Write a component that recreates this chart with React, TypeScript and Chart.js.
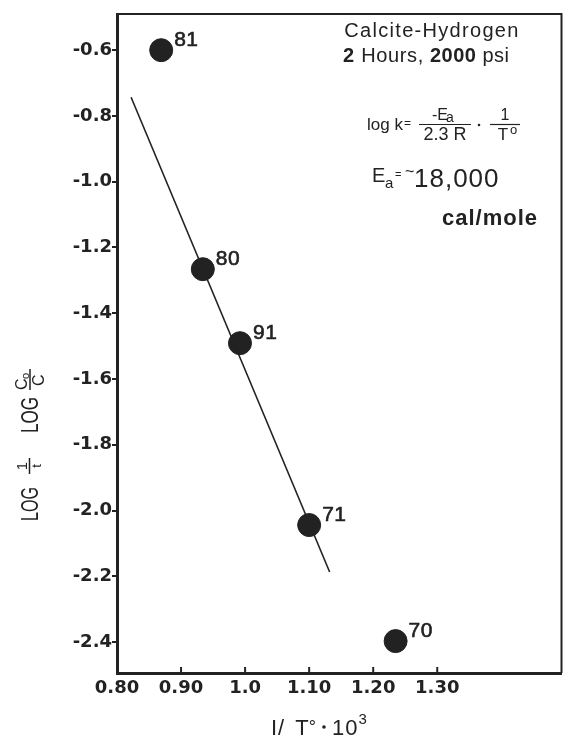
import React, { useEffect, useRef } from 'react';
import { Chart, registerables } from 'chart.js';

Chart.register(...registerables);

// ---- data ----
const runLabels = ['81', '80', '91', '71', '70'];
const invTemp = [0.869, 0.934, 0.992, 1.1, 1.235];
const logRate = [-0.6, -1.266, -1.491, -2.044, -2.397];
const fitX = [0.822, 1.132];
const fitY = [-0.743, -2.187];
const xTickValues = [0.8, 0.9, 1.0, 1.1, 1.2, 1.3];
const xTickLabels = ['0.80', '0.90', '1.0', '1.10', '1.20', '1.30'];
const yTickValues = [-0.6, -0.8, -1.0, -1.2, -1.4, -1.6, -1.8, -2.0, -2.2, -2.4];
const yTickLabels = ['-0.6', '-0.8', '-1.0', '-1.2', '-1.4', '-1.6', '-1.8', '-2.0', '-2.2', '-2.4'];

const INK = '#222222';
const FONT = '"Liberation Sans", Arial, Helvetica, sans-serif';
const TICKFONT = '"DejaVu Sans", "Liberation Sans", sans-serif';

function setSpacing(ctx: any, px: number) {
  try { ctx.letterSpacing = px + 'px'; } catch (e) { /* ignore */ }
}

function seg(ctx: CanvasRenderingContext2D, text: string, x: number, y: number, font: string, spacing = 0) {
  ctx.font = font;
  setSpacing(ctx, spacing);
  ctx.fillText(text, x, y);
  const w = ctx.measureText(text).width;
  setSpacing(ctx, 0);
  return x + w;
}

const decorPlugin = {
  id: 'decor',
  afterDraw(chart: any) {
    const ctx: CanvasRenderingContext2D = chart.ctx;
    const { left, right, top, bottom } = chart.chartArea;
    const xs = chart.scales.x;
    ctx.save();
    ctx.strokeStyle = INK;
    ctx.fillStyle = INK;
    // top & right frame
    ctx.lineWidth = 2;
    ctx.beginPath();
    ctx.moveTo(left, top);
    ctx.lineTo(right, top);
    ctx.lineTo(right, bottom);
    ctx.stroke();
    // x tick marks (inside)
    ctx.lineWidth = 2;
    xTickValues.forEach((v) => {
      const px = xs.getPixelForValue(v);
      ctx.beginPath();
      ctx.moveTo(px, bottom);
      ctx.lineTo(px, bottom - 6);
      ctx.stroke();
    });

    // point labels
    const meta = chart.getDatasetMeta(1);
    ctx.textBaseline = 'middle';
    ctx.textAlign = 'left';
    ctx.lineWidth = 0.6;
    meta.data.forEach((el: any, i: number) => {
      ctx.font = `21px ${FONT}`;
      setSpacing(ctx, 0.5);
      ctx.fillText(runLabels[i], el.x + 13, el.y - 10);
      ctx.strokeText(runLabels[i], el.x + 13, el.y - 10);
      setSpacing(ctx, 0);
    });

    // annotations top-right
    ctx.textBaseline = 'alphabetic';
    ctx.textAlign = 'center';
    ctx.font = `20px ${FONT}`;
    setSpacing(ctx, 1.3);
    ctx.fillText('Calcite-Hydrogen', 432, 37);
    setSpacing(ctx, 0);
    ctx.textAlign = 'left';
    let cx = 343;
    cx = seg(ctx, '2', cx, 62, `bold 20px ${FONT}`, 1);
    cx = seg(ctx, ' Hours, ', cx, 62, `20px ${FONT}`, 0.6);
    cx = seg(ctx, '2000', cx, 62, `bold 20px ${FONT}`, 0.5);
    cx = seg(ctx, ' psi', cx, 62, `20px ${FONT}`, 0.5);

    // formula
    let fx = seg(ctx, 'log k', 367, 130, `17px ${FONT}`, 0);
    seg(ctx, '=', fx + 1, 127, `12px ${FONT}`, 0);
    ctx.textAlign = 'center';
    seg(ctx, '-E', 440, 120, `16px ${FONT}`, 0);
    ctx.textAlign = 'left';
    seg(ctx, 'a', 446, 122, `14px ${FONT}`, 0);
    ctx.textAlign = 'center';
    seg(ctx, '2.3 R', 445, 140, `18px ${FONT}`, 0);
    ctx.lineWidth = 1.2;
    ctx.beginPath();
    ctx.moveTo(419, 124.5);
    ctx.lineTo(471, 124.5);
    ctx.stroke();
    ctx.beginPath();
    ctx.arc(479, 125, 1.3, 0, Math.PI * 2);
    ctx.fill();
    seg(ctx, '1', 505, 120, `16px ${FONT}`, 0);
    ctx.beginPath();
    ctx.moveTo(490, 124.5);
    ctx.lineTo(520, 124.5);
    ctx.stroke();
    seg(ctx, 'T', 503, 140, `17px ${FONT}`, 0);
    ctx.textAlign = 'left';
    seg(ctx, 'o', 510, 134, `13px ${FONT}`, 0);

    // Ea
    seg(ctx, 'E', 372, 182, `20px ${FONT}`, 0);
    seg(ctx, 'a', 385, 188, `15px ${FONT}`, 0);
    seg(ctx, '=', 395, 178, `11px ${FONT}`, 0);
    seg(ctx, '~', 405, 177, `16px ${FONT}`, 0);
    seg(ctx, '18,000', 414, 187, `26px ${FONT}`, 1);
    seg(ctx, 'cal/mole', 442, 225, `bold 22px ${FONT}`, 1);

    // x title
    let tx = 271;
    tx = seg(ctx, 'I/', tx, 735, `22px ${FONT}`, 1);
    tx = seg(ctx, ' T', tx + 4, 735, `22px ${FONT}`, 0);
    tx = seg(ctx, '\u00b0', tx, 733, `18px ${FONT}`, 0);
    ctx.beginPath();
    ctx.arc(tx + 8, 727, 1.8, 0, Math.PI * 2);
    ctx.fill();
    tx = seg(ctx, '10', tx + 16, 735, `22px ${FONT}`, 1);
    seg(ctx, '3', tx, 724, `15px ${FONT}`, 0);

    // y title (rotated)
    ctx.save();
    ctx.translate(34, 445);
    ctx.rotate(-Math.PI / 2);
    const drawScaled = (text: string, x: number, y: number, font: string, targetW: number) => {
      ctx.font = font;
      const w = ctx.measureText(text).width;
      ctx.save();
      ctx.translate(x, y);
      ctx.scale(targetW / w, 1);
      ctx.textAlign = 'left';
      ctx.fillText(text, 0, 0);
      ctx.restore();
    };
    drawScaled('LOG', -76, 4, `23px ${FONT}`, 34);
    // fraction 1/t
    ctx.textAlign = 'center';
    ctx.font = `15px ${FONT}`;
    ctx.fillText('1', -21, -7);
    ctx.lineWidth = 1.5;
    ctx.beginPath();
    ctx.moveTo(-29, -4.5);
    ctx.lineTo(-13, -4.5);
    ctx.stroke();
    ctx.font = `13px ${FONT}`;
    ctx.fillText('t', -21, 7);
    drawScaled('LOG', 12, 4, `23px ${FONT}`, 36);
    // fraction Co/C
    ctx.font = `16px ${FONT}`;
    ctx.textAlign = 'left';
    ctx.fillText('C', 55, -7);
    ctx.font = `11px ${FONT}`;
    ctx.fillText('o', 66, -5);
    ctx.beginPath();
    ctx.moveTo(55, -4);
    ctx.lineTo(76, -4);
    ctx.stroke();
    ctx.font = `16px ${FONT}`;
    ctx.fillText('C', 59, 10);
    ctx.restore();

    ctx.restore();
  },
};

export default function App() {
  const canvasRef = useRef<HTMLCanvasElement | null>(null);

  useEffect(() => {
    document.body.style.margin = '0';
    const canvas = canvasRef.current;
    if (!canvas) return;
    const chart = new Chart(canvas, {
      type: 'scatter',
      data: {
        datasets: [
          {
            type: 'line',
            label: 'fit',
            data: fitX.map((x, i) => ({ x, y: fitY[i] })),
            borderColor: INK,
            borderWidth: 1.6,
            pointRadius: 0,
            fill: false,
          } as any,
          {
            label: 'runs',
            data: invTemp.map((x, i) => ({ x, y: logRate[i] })),
            backgroundColor: INK,
            borderColor: INK,
            pointRadius: 11.5,
            pointHoverRadius: 11.5,
          },
        ],
      },
      options: {
        responsive: false,
        animation: false,
        devicePixelRatio: 1,
        layout: { padding: { left: 0, top: 14, right: 6, bottom: 0 } },
        plugins: {
          legend: { display: false },
          tooltip: { enabled: false },
          title: { display: false },
        },
        scales: {
          x: {
            type: 'linear',
            min: 0.8,
            max: 1.494,
            afterFit: (s: any) => { s.height = 66; },
            afterBuildTicks: (s: any) => { s.ticks = xTickValues.map((v) => ({ value: v })); },
            border: { display: true, color: INK, width: 3 },
            grid: { display: false, drawTicks: false, tickLength: 0 },
            ticks: {
              color: INK,
              padding: 5,
              font: { family: TICKFONT, size: 18, weight: 'bold' },
              maxRotation: 0,
              autoSkip: false,
              callback: (v: any) => {
                const i = xTickValues.findIndex((t) => Math.abs(t - Number(v)) < 1e-6);
                return i >= 0 ? xTickLabels[i] : '';
              },
            },
          },
          y: {
            type: 'linear',
            min: -2.494,
            max: -0.49,
            afterFit: (s: any) => { s.width = 117; },
            afterBuildTicks: (s: any) => { s.ticks = yTickValues.map((v) => ({ value: v })); },
            border: { display: true, color: INK, width: 3 },
            grid: { display: true, drawOnChartArea: false, tickLength: 5, color: INK, lineWidth: 2 },
            ticks: {
              color: INK,
              padding: 0,
              font: { family: TICKFONT, size: 18, weight: 'bold' },
              autoSkip: false,
              callback: (v: any) => {
                const i = yTickValues.findIndex((t) => Math.abs(t - Number(v)) < 1e-6);
                return i >= 0 ? yTickLabels[i] : '';
              },
            },
          },
        },
      },
      plugins: [decorPlugin],
    });
    return () => chart.destroy();
  }, []);

  return (
    <div style={{ width: 574, height: 739, background: '#fff' }}>
      <canvas ref={canvasRef} width={574} height={739} style={{ display: 'block' }} />
    </div>
  );
}
